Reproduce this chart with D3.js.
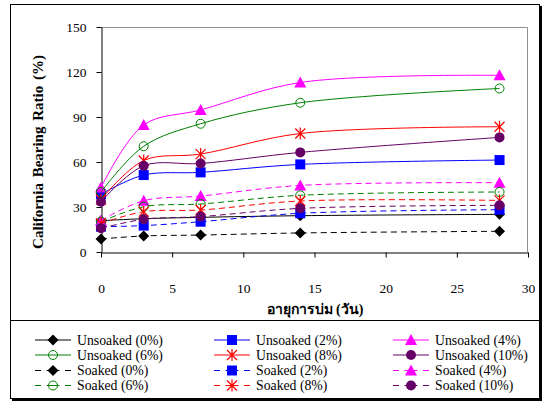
<!DOCTYPE html>
<html>
<head>
<meta charset="utf-8">
<script src="https://cdn.jsdelivr.net/npm/d3@7"></script>
<style>
  body { margin: 0; background: #fff; }
  svg text { font-family: "Liberation Serif", "Times New Roman", serif; }
</style>
</head>
<body>
<div class="cbr-chart"></div>
<script>
// curing age (days)
var days = [0, 3, 7, 14, 28];

// unsoaked CBR (%)
var unsoaked0 = [20.9, 22.2, 23.1, 24.2, 25.1];
var unsoaked2 = [38.5, 51.3, 53.1, 58.4, 61.3];
var unsoaked4 = [43, 84.7, 94.7, 113, 117.8];
var unsoaked6 = [40, 70.5, 85.5, 99.5, 109];
var unsoaked8 = [35, 61, 65.3, 79, 83.5];
var unsoaked10 = [33.5, 57.5, 59, 66.4, 76.4];

// soaked CBR (%)
var soaked0 = [8.7, 10.7, 11.3, 12.7, 13.8];
var soaked2 = [16.9, 17.6, 20.2, 25.8, 28.2];
var soaked4 = [21, 34.2, 37.3, 44.4, 46.2];
var soaked6 = [20.2, 30.2, 32, 37.8, 40];
var soaked8 = [19, 26.9, 28, 34, 34.4];
var soaked10 = [15.8, 21.8, 23.6, 29.1, 31.1];

var seriesNames = ["Unsoaked (0%)", "Unsoaked (2%)", "Unsoaked (4%)",
  "Unsoaked (6%)", "Unsoaked (8%)", "Unsoaked (10%)",
  "Soaked (0%)", "Soaked (2%)", "Soaked (4%)",
  "Soaked (6%)", "Soaked (8%)", "Soaked (10%)"];
var seriesValues = [unsoaked0, unsoaked2, unsoaked4, unsoaked6, unsoaked8, unsoaked10,
  soaked0, soaked2, soaked4, soaked6, soaked8, soaked10];

var xTicks = [0, 5, 10, 15, 20, 25, 30];
var yTicks = [0, 30, 60, 90, 120, 150];

// per-percentage look: colour + marker
var colors = ["#000000", "#0000ff", "#ff00ff", "#008000", "#ff0000", "#660066"];
var markers = ["diamond", "square", "triangle", "circle", "star", "dot"];

var svg = d3.select(".cbr-chart").append("svg")
  .attr("width", 545)
  .attr("height", 404);

// outer frame with shadow
svg.append("rect").attr("x", 12).attr("y", 6).attr("width", 530).attr("height", 395).attr("fill", "#000");
svg.append("rect").attr("x", 10.5).attr("y", 4.5).attr("width", 529).attr("height", 394)
  .attr("fill", "#fff").attr("stroke", "#000").attr("stroke-width", 1);
svg.append("line").attr("x1", 10.5).attr("x2", 539.5).attr("y1", 320.5).attr("y2", 320.5)
  .attr("stroke", "#000");

var x = d3.scaleLinear().domain([0, 30]).range([101, 528]);
var y = d3.scaleLinear().domain([0, 150]).range([252, 27]);

// plot area border (grey top / right)
svg.append("path")
  .attr("d", "M" + x(0) + "," + (y(150) + 0.5) + "H" + (x(30) - 0.5) + "V" + y(0))
  .attr("fill", "none").attr("stroke", "#909090").attr("stroke-width", 1);

var yAxis = svg.append("g")
  .attr("transform", "translate(" + (x(0) + 0.5) + ",0)")
  .call(d3.axisLeft(y).tickValues(yTicks).tickSize(5).tickPadding(10).tickSizeOuter(0));
var xAxis = svg.append("g")
  .attr("transform", "translate(0," + (y(0) + 0.5) + ")")
  .call(d3.axisBottom(x).tickValues(xTicks).tickSize(5).tickPadding(26).tickSizeOuter(0));

[xAxis, yAxis].forEach(function(g) {
  g.selectAll("text").attr("font-size", 13.5).attr("fill", "#000")
    .style("font-family", "'Liberation Serif', serif");
  g.selectAll("line, path").attr("stroke", "#000");
});

svg.append("text")
  .attr("transform", "translate(43,152) rotate(-90)")
  .attr("text-anchor", "middle")
  .attr("font-size", 15).attr("font-weight", "bold")
  .attr("word-spacing", 2)
  .text("California Bearing Ratio (%)");

svg.append("text")
  .attr("x", 315).attr("y", 314)
  .attr("text-anchor", "middle")
  .attr("font-size", 14).attr("font-weight", "bold")
  .text("อายุการบ่ม (วัน)");

function drawMarker(g, type, color, cx, cy) {
  if (type == "diamond") {
    g.append("path").attr("d", "M" + cx + "," + (cy - 5.5) + "L" + (cx + 5.5) + "," + cy + "L" + cx + "," + (cy + 5.5) + "L" + (cx - 5.5) + "," + cy + "Z")
      .attr("fill", color);
  } else if (type == "square") {
    g.append("rect").attr("x", cx - 5).attr("y", cy - 5).attr("width", 10).attr("height", 10)
      .attr("fill", color);
  } else if (type == "triangle") {
    g.append("path").attr("d", "M" + cx + "," + (cy - 6) + "L" + (cx + 6) + "," + (cy + 5) + "L" + (cx - 6) + "," + (cy + 5) + "Z")
      .attr("fill", color);
  } else if (type == "circle") {
    g.append("circle").attr("cx", cx).attr("cy", cy).attr("r", 4.5)
      .attr("fill", "none").attr("stroke", color).attr("stroke-width", 1);
  } else if (type == "dot") {
    g.append("circle").attr("cx", cx).attr("cy", cy).attr("r", 5).attr("fill", color);
  } else if (type == "star") {
    g.append("path")
      .attr("d", "M" + cx + "," + (cy - 6) + "V" + (cy + 6) +
        "M" + (cx - 5) + "," + (cy - 5) + "L" + (cx + 5) + "," + (cy + 5) +
        "M" + (cx + 5) + "," + (cy - 5) + "L" + (cx - 5) + "," + (cy + 5))
      .attr("stroke", color).attr("stroke-width", 1.2).attr("fill", "none");
  }
}

var line = d3.line()
  .x(function(d, i) { return x(days[i]); })
  .y(function(d) { return y(d); })
  .curve(d3.curveCatmullRom);

var plot = svg.append("g");
seriesValues.forEach(function(vals, n) {
  var k = n % 6;
  var soaked = n >= 6;
  plot.append("path")
    .attr("d", line(vals))
    .attr("fill", "none")
    .attr("stroke", colors[k])
    .attr("stroke-width", 1)
    .attr("stroke-dasharray", soaked ? "6,4" : null);
  vals.forEach(function(v, i) {
    drawMarker(plot, markers[k], colors[k], x(days[i]), y(v));
  });
});

// legend, 3 columns x 4 rows
var legendCols = [35, 214, 393];
var legendRows = [340, 355, 370.5, 385.5];
var legend = svg.append("g");
seriesNames.forEach(function(name, n) {
  var k = n % 6;
  var soaked = n >= 6;
  var lx = legendCols[n % 3];
  var ly = legendRows[Math.floor(n / 3)];
  legend.append("line")
    .attr("x1", lx).attr("x2", lx + 36).attr("y1", ly).attr("y2", ly)
    .attr("stroke", colors[k]).attr("stroke-width", 1)
    .attr("stroke-dasharray", soaked ? "6,5.5,13,5.5,6" : null);
  drawMarker(legend, markers[k], colors[k], lx + 18, ly);
  legend.append("text")
    .attr("x", lx + 42).attr("y", ly + 4.5)
    .attr("font-size", 13.75)
    .text(name);
});
</script>
</body>
</html>
